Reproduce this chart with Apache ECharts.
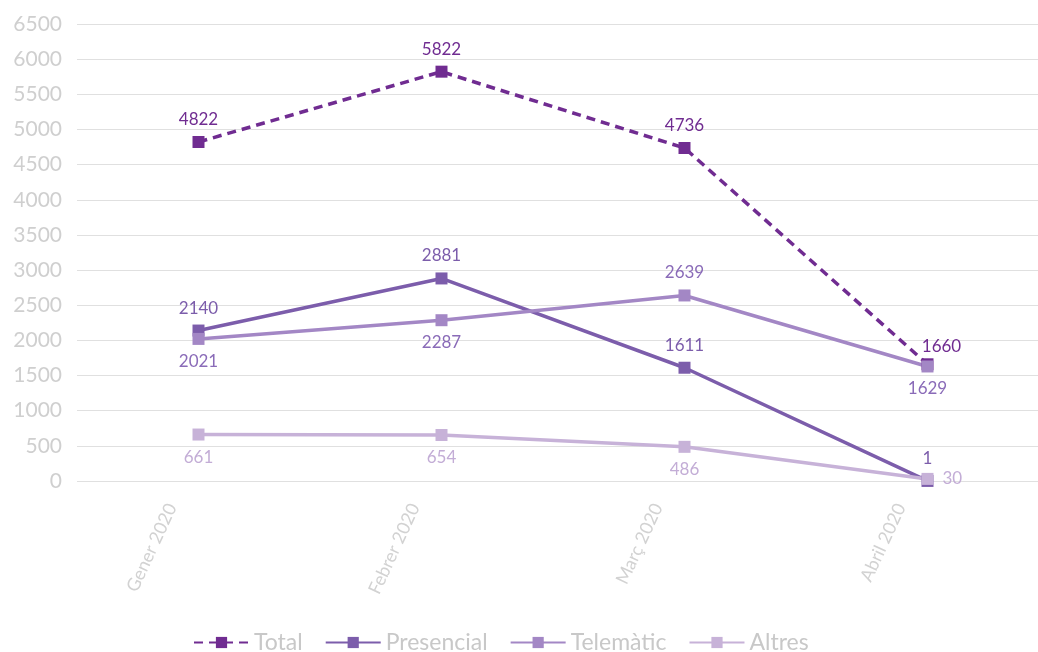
<!DOCTYPE html>
<html>
  <head>
    <meta charset="utf-8" />
    <title>ECharts</title>
    <script src="https://cdn.jsdelivr.net/npm/echarts@6/dist/echarts.min.js"></script>
    <style>
      html, body { margin: 0; padding: 0; background: #fff; }
    </style>
  </head>
  <body>
    <div id="main" style="width: 1038px;height:652px;"></div>
    <script type="text/javascript">
      // dades
      var mesos = ['Gener 2020', 'Febrer 2020', 'Març 2020', 'Abril 2020'];
      var total = [4822, 5822, 4736, 1660];
      var presencial = [2140, 2881, 1611, 1];
      var telematic = [2021, 2287, 2639, 1629];
      var altres = [661, 654, 486, 30];

      // posicio de cada etiqueta
      var posTotal = ['top', 'top', 'top', 'top'];
      var posPresencial = ['top', 'top', 'top', 'top'];
      var posTelematic = ['bottom', 'bottom', 'top', 'bottom'];
      var posAltres = ['bottom', 'bottom', 'bottom', 'right'];

      var font = 'Lato, "Noto Sans", sans-serif';

      function punts(vals, pos) {
        return vals.map(function (v, i) {
          return { value: v, label: { position: pos[i] } };
        });
      }

      function serie(nom, vals, pos, color, labelColor, dashed) {
        return {
          name: nom,
          type: 'line',
          symbol: 'rect',
          symbolSize: 12,
          lineStyle: { width: 3.5, color: color, type: dashed ? [9, 6] : 'solid' },
          itemStyle: { color: color },
          label: {
            show: true,
            color: labelColor,
            fontSize: 17,
            fontFamily: font,
            distance: 8
          },
          data: punts(vals, pos)
        };
      }

      var myChart = echarts.init(document.getElementById('main'));

      var series = [
        serie('Total', total, posTotal, '#702c91', '#702c91', true),
        serie('Presencial', presencial, posPresencial, '#7c5dab', '#7c5dab', false),
        serie('Telemàtic', telematic, posTelematic, '#a387c5', '#8a6bb8', false),
        serie('Altres', altres, posAltres, '#c7b2d8', '#c3add6', false)
      ];
      // 1660 una mica a la dreta
      series[0].data[3].label.offset = [14, 5];
      series[3].data[3].label.distance = 9;

      option = {
        animation: false,
        legend: {
          top: 631,
          left: 193,
          padding: 0,
          itemWidth: 55,
          itemHeight: 14,
          itemGap: 22,
          textStyle: { color: '#c8c8c8', fontSize: 23, fontFamily: font },
          data: ['Total', 'Presencial', 'Telemàtic', 'Altres']
        },
        grid: {
          left: 77,
          right: -11,
          top: 24,
          bottom: 171,
          outerBoundsMode: 'none'
        },
        xAxis: {
          type: 'category',
          data: mesos,
          axisLine: { show: false },
          axisTick: { show: false },
          axisLabel: {
            rotate: 65,
            margin: 14,
            padding: [0, 20, 0, 0],
            lineHeight: 40,
            color: '#d2d2d2',
            fontSize: 18,
            fontFamily: font,
            // linia buida per desplacar el text cap amunt
            formatter: function (v) { return v + '\n '; }
          }
        },
        yAxis: {
          type: 'value',
          min: 0,
          max: 6500,
          interval: 500,
          axisLine: { show: false },
          axisTick: { show: false },
          axisLabel: {
            margin: 15,
            color: '#cfcfcf',
            fontSize: 21,
            fontFamily: font,
            formatter: function (v) { return String(v); }
          },
          splitLine: { lineStyle: { color: '#e0e0e0', width: 1 } }
        },
        series: series
      };

      myChart.setOption(option);
    </script>
  </body>
</html>
